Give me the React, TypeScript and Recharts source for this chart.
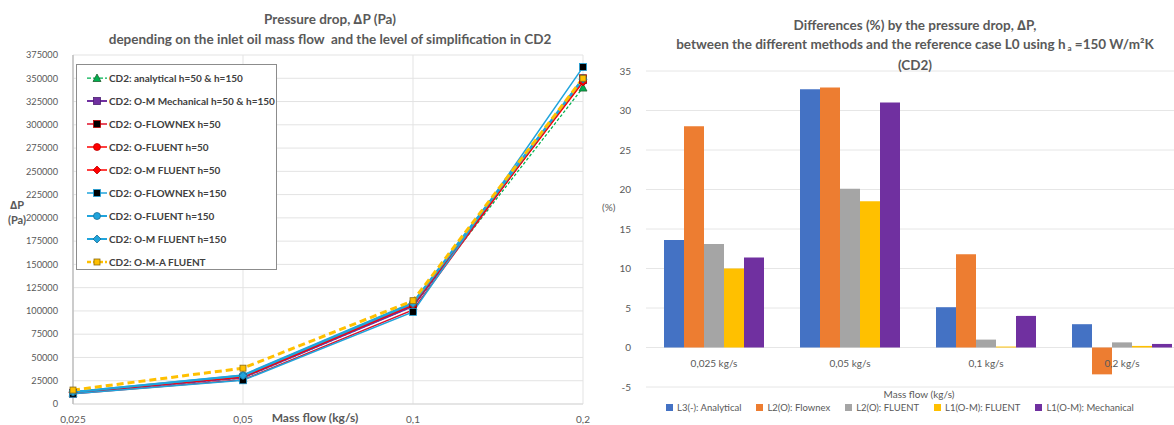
import React from 'react';
import {
  LineChart, Line, BarChart, Bar, XAxis, YAxis, CartesianGrid, Legend,
} from 'recharts';

// ---------- Left chart data ----------
const flowCategories = ['0,025', '0,05', '0,1', '0,2'];
const analytical = [12000, 28000, 105000, 340000];
const omMechanical = [12000, 28500, 105000, 348000];
const flownex50 = [11000, 26000, 101000, 350000];
const fluent50 = [12500, 29500, 107000, 347000];
const omFluent50 = [12500, 29000, 106500, 346000];
const flownex150 = [11000, 25500, 99000, 362000];
const fluent150 = [13000, 31000, 109000, 350000];
const omFluent150 = [13000, 30500, 108000, 349000];
const omaFluent = [15000, 38500, 111000, 350000];
const pressureTicks = [0, 25000, 50000, 75000, 100000, 125000, 150000, 175000, 200000, 225000, 250000, 275000, 300000, 325000, 350000, 375000];

// ---------- Right chart data ----------
const massCategories = ['0,025 kg/s', '0,05 kg/s', '0,1 kg/s', '0,2 kg/s'];
const l3Analytical = [13.6, 32.7, 5.1, 2.95];
const l2Flownex = [28.0, 32.9, 11.8, -3.4];
const l2Fluent = [13.1, 20.1, 1.0, 0.65];
const l1Fluent = [10.0, 18.5, 0.12, 0.2];
const l1Mechanical = [11.4, 31.0, 4.0, 0.45];
const percentTicks = [-5, 0, 5, 10, 15, 20, 25, 30, 35];

const FONT = 'Lato, "Open Sans", sans-serif';
const TEXT = '#595959';

type Shape = 'triangle' | 'square' | 'circle' | 'diamond';
interface SeriesCfg {
  key: string; name: string; data: number[]; color: string; width: number;
  dash?: string; shape: Shape; mFill: string; mStroke: string; mSize: number;
}

const lineSeries: SeriesCfg[] = [
  { key: 'a', name: 'CD2: analytical h=50 & h=150', data: analytical, color: '#00b050', width: 1.25, dash: '3 2', shape: 'triangle', mFill: '#00b050', mStroke: '#1f5f2f', mSize: 7 },
  { key: 'b', name: 'CD2: O-M Mechanical h=50 & h=150', data: omMechanical, color: '#7030a0', width: 2, shape: 'square', mFill: '#7030a0', mStroke: '#4b2070', mSize: 7 },
  { key: 'c', name: 'CD2: O-FLOWNEX h=50', data: flownex50, color: '#e0102a', width: 1.5, shape: 'square', mFill: '#000000', mStroke: '#c00000', mSize: 7 },
  { key: 'd', name: 'CD2: O-FLUENT h=50', data: fluent50, color: '#ff0000', width: 1.5, shape: 'circle', mFill: '#ff0000', mStroke: '#c00000', mSize: 7 },
  { key: 'e', name: 'CD2: O-M FLUENT h=50', data: omFluent50, color: '#ff0000', width: 1.5, shape: 'diamond', mFill: '#ff0000', mStroke: '#c00000', mSize: 7 },
  { key: 'f', name: 'CD2: O-FLOWNEX h=150', data: flownex150, color: '#20a4dc', width: 1.5, shape: 'square', mFill: '#000000', mStroke: '#20a4dc', mSize: 7 },
  { key: 'g', name: 'CD2: O-FLUENT h=150', data: fluent150, color: '#20a4dc', width: 2, shape: 'circle', mFill: '#20a4dc', mStroke: '#1a6f96', mSize: 7 },
  { key: 'h', name: 'CD2: O-M FLUENT h=150', data: omFluent150, color: '#20a4dc', width: 2, shape: 'diamond', mFill: '#20a4dc', mStroke: '#1a6f96', mSize: 7 },
  { key: 'i', name: 'CD2: O-M-A FLUENT', data: omaFluent, color: '#ffc000', width: 3, dash: '7 4', shape: 'square', mFill: '#ffc000', mStroke: '#8a6a10', mSize: 6 },
];

const lineData = flowCategories.map((c, i) => {
  const row: Record<string, string | number> = { x: c };
  lineSeries.forEach((s) => { row[s.key] = s.data[i]; });
  return row;
});

const barSeries = [
  { key: 'l3', name: 'L3(-): Analytical', data: l3Analytical, color: '#4472c4' },
  { key: 'l2f', name: 'L2(O): Flownex', data: l2Flownex, color: '#ed7d31' },
  { key: 'l2u', name: 'L2(O): FLUENT', data: l2Fluent, color: '#a5a5a5' },
  { key: 'l1f', name: 'L1(O-M): FLUENT', data: l1Fluent, color: '#ffc000' },
  { key: 'l1m', name: 'L1(O-M): Mechanical', data: l1Mechanical, color: '#7030a0' },
];

const barData = massCategories.map((c, i) => {
  const row: Record<string, string | number> = { x: c };
  barSeries.forEach((s) => { row[s.key] = s.data[i]; });
  return row;
});

function marker(shape: Shape, cx: number, cy: number, size: number, fill: string, stroke: string, k?: React.Key) {
  const h = size / 2;
  if (shape === 'square') return <rect key={k} x={cx - h} y={cy - h} width={size} height={size} fill={fill} stroke={stroke} strokeWidth={0.8} />;
  if (shape === 'circle') return <circle key={k} cx={cx} cy={cy} r={h} fill={fill} stroke={stroke} strokeWidth={0.8} />;
  if (shape === 'diamond') return <polygon key={k} points={`${cx},${cy - h - 0.5} ${cx + h + 0.5},${cy} ${cx},${cy + h + 0.5} ${cx - h - 0.5},${cy}`} fill={fill} stroke={stroke} strokeWidth={0.8} />;
  return <polygon key={k} points={`${cx},${cy - h - 0.5} ${cx + h + 0.5},${cy + h} ${cx - h - 0.5},${cy + h}`} fill={fill} stroke={stroke} strokeWidth={0.8} />;
}

const makeDot = (s: SeriesCfg) => (props: any) => {
  const { cx, cy, index } = props;
  if (cx == null || cy == null) return <g key={index} />;
  return marker(s.shape, cx, cy, s.mSize, s.mFill, s.mStroke, index);
};

const LeftLegend = () => (
  <div style={{ fontFamily: FONT, fontSize: 10, color: '#404040', fontWeight: 700, padding: '1px 0 0 9px', whiteSpace: 'nowrap' }}>
    {lineSeries.map((s) => (
      <div key={s.key} style={{ height: 23, display: 'flex', alignItems: 'center' }}>
        <svg width={22} height={10} style={{ marginRight: 1 }}>
          <line x1={1} y1={5} x2={21} y2={5} stroke={s.color} strokeWidth={Math.min(s.width, 2.5)} strokeDasharray={s.dash ? '4 2' : undefined} />
          {marker(s.shape, 11, 5, s.mSize, s.mFill, s.mStroke)}
        </svg>
        <span>{s.name}</span>
      </div>
    ))}
  </div>
);

const RightLegend = () => (
  <div style={{ display: 'flex', fontFamily: FONT, fontSize: 9.5, color: TEXT, whiteSpace: 'nowrap' }}>
    {barSeries.map((s) => (
      <div key={s.key} style={{ display: 'flex', alignItems: 'center', marginRight: 15 }}>
        <span style={{ width: 7, height: 7, background: s.color, display: 'inline-block', marginRight: 4 }} />
        <span>{s.name}</span>
      </div>
    ))}
  </div>
);

const BAR_PLOT_H = 316;
const BarTick = (props: any) => {
  const { x, y, payload } = props;
  const zeroY = y - BAR_PLOT_H * (5 / 40);
  return (
    <text x={x} y={zeroY + 15} textAnchor="middle" dominantBaseline="central" fontSize={10} fill={TEXT} fontFamily={FONT}>
      {payload.value}
    </text>
  );
};

const titleStyle: React.CSSProperties = {
  position: 'absolute', fontFamily: FONT, fontWeight: 700, fontSize: 13.5, color: TEXT, textAlign: 'center', lineHeight: '20px', whiteSpace: 'nowrap',
};

export default function App() {
  return (
    <div style={{ position: 'fixed', left: 0, top: 0, width: 1174, height: 425, overflow: 'hidden', background: '#fff' }}>
      {/* Left chart */}
      <div style={{ position: 'absolute', left: 0, top: 0, width: 600, height: 425 }}>
        <LineChart width={600} height={425} data={lineData} margin={{ top: 55, right: 17, bottom: 0, left: 0 }}>
          <CartesianGrid stroke="#e3e3e3" vertical horizontal />
          <XAxis dataKey="x" padding={{ left: 0, right: 0 }} height={21} tickLine={false} axisLine={{ stroke: '#d9d9d9' }}
            tick={{ fontSize: 10, fill: TEXT, fontFamily: FONT }} tickMargin={6} interval={0} />
          <YAxis type="number" domain={[0, 375000]} ticks={pressureTicks} width={73} tickLine={false} axisLine={{ stroke: '#bfbfbf', strokeWidth: 1.5 }}
            tick={{ fontSize: 9.2, fill: TEXT, fontFamily: FONT }} tickMargin={9} interval={0} />
          {lineSeries.map((s) => (
            <Line key={s.key} dataKey={s.key} name={s.name} type="linear" stroke={s.color} strokeWidth={s.width}
              strokeDasharray={s.dash} dot={makeDot(s)} activeDot={false} isAnimationActive={false} />
          ))}
          <Legend layout="vertical" align="center" verticalAlign="middle" content={<LeftLegend />}
            wrapperStyle={{ left: 76, top: 64, width: 201, height: 206, border: '1px solid #8c8c8c', background: '#fff', boxSizing: 'border-box' }} />
        </LineChart>
        <div style={{ ...titleStyle, left: 0, width: 660, top: 9 }}>
          Pressure drop, ∆P (Pa)<br />depending on the inlet oil mass flow&nbsp; and the level of simplification in CD2
        </div>
        <div style={{ position: 'absolute', left: 2, top: 197, width: 30, textAlign: 'center', fontFamily: FONT, fontWeight: 700, fontSize: 11, color: TEXT, lineHeight: '15px' }}>
          ∆P<br />(Pa)
        </div>
        <div style={{ position: 'absolute', left: 255, width: 120, top: 410, textAlign: 'center', fontFamily: FONT, fontWeight: 700, fontSize: 12, color: TEXT }}>
          Mass flow (kg/s)
        </div>
      </div>

      {/* Right chart */}
      <div style={{ position: 'absolute', left: 600, top: 0, width: 620, height: 425 }}>
        <BarChart width={620} height={425} data={barData} margin={{ top: 71, right: 30, bottom: 18, left: 0 }}
          barCategoryGap={18} barGap={0}>
          <CartesianGrid stroke="#e6e6e6" vertical={false} />
          <XAxis dataKey="x" height={20} axisLine={false} tickLine={false} tickSize={0} tickMargin={0} tick={<BarTick />} interval={0} />
          <YAxis type="number" domain={[-5, 35]} ticks={percentTicks} width={46} axisLine={false} tickLine={false}
            tick={{ fontSize: 10, fill: TEXT, fontFamily: FONT }} tickMargin={9} interval={0} />
          {barSeries.map((s) => (
            <Bar key={s.key} dataKey={s.key} name={s.name} fill={s.color} isAnimationActive={false} />
          ))}
          <Legend layout="horizontal" align="center" verticalAlign="middle" content={<RightLegend />}
            wrapperStyle={{ left: 66, top: 402, width: 'auto' }} />
        </BarChart>
        <div style={{ ...titleStyle, left: 0, width: 630, top: 16, lineHeight: '19px' }}>
          Differences (%) by the pressure drop, ∆P,<br />
          between the different methods and the reference case L0 using h<sub style={{ fontSize: 8, verticalAlign: 'baseline', position: 'relative', top: 2 }}> a</sub> =150 W/m²K<br />
          (CD2)
        </div>
        <div style={{ position: 'absolute', left: 2, top: 201, fontFamily: FONT, fontSize: 10, color: TEXT }}>(%)</div>
        <div style={{ position: 'absolute', left: 259, width: 120, top: 388, textAlign: 'center', fontFamily: FONT, fontSize: 10, color: TEXT }}>
          Mass flow (kg/s)
        </div>
      </div>
    </div>
  );
}
